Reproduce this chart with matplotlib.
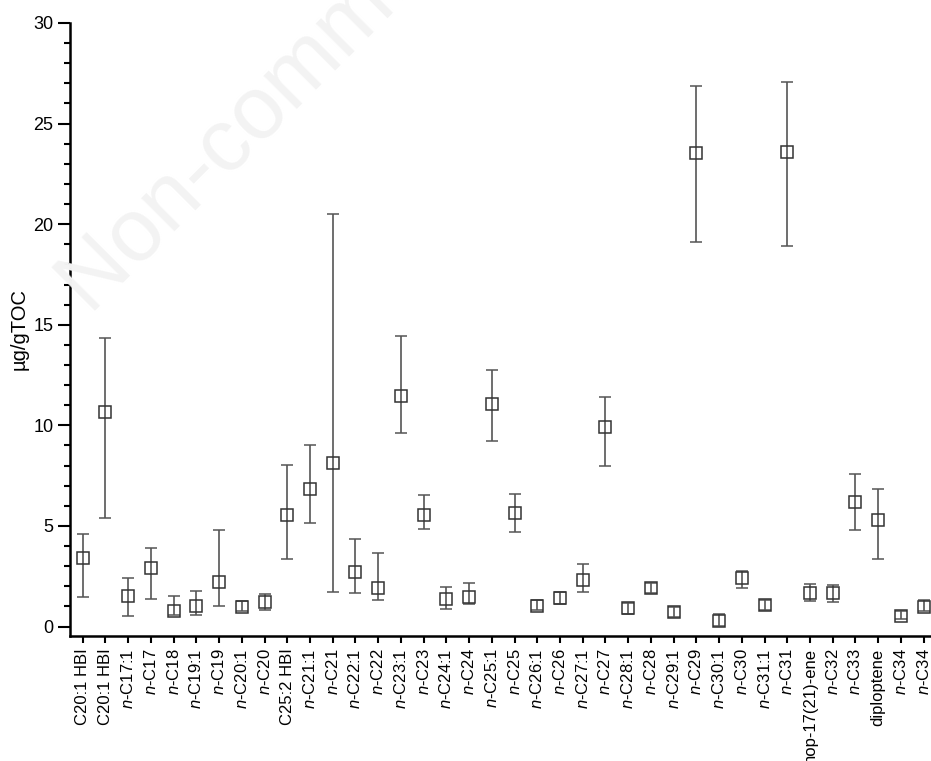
import numpy as np
import matplotlib.pyplot as plt
from matplotlib.ticker import MultipleLocator

plt.rcParams['font.family'] = ['Liberation Sans', 'DejaVu Sans']
plt.rcParams['mathtext.fontset'] = 'custom'
plt.rcParams['mathtext.rm'] = 'Liberation Sans'
plt.rcParams['mathtext.it'] = 'Liberation Sans:italic'

n = r'$\it{n}$'
compounds = ['C20:1 HBI', 'C20:1 HBI', n + '-C17:1', n + '-C17', n + '-C18',
             n + '-C19:1', n + '-C19', n + '-C20:1', n + '-C20', 'C25:2 HBI',
             n + '-C21:1', n + '-C21', n + '-C22:1', n + '-C22', n + '-C23:1',
             n + '-C23', n + '-C24:1', n + '-C24', n + '-C25:1', n + '-C25',
             n + '-C26:1', n + '-C26', n + '-C27:1', n + '-C27', n + '-C28:1',
             n + '-C28', n + '-C29:1', n + '-C29', n + '-C30:1', n + '-C30',
             n + '-C31:1', n + '-C31', 'hop-17(21)-ene', n + '-C32', n + '-C33',
             'diploptene', n + '-C34', n + '-C34']

# mean concentration and range (ug/gTOC)
mean = [3.42, 10.66, 1.53, 2.90, 0.79, 1.04, 2.23, 0.95, 1.20, 5.55,
        6.83, 8.13, 2.70, 1.93, 11.47, 5.55, 1.37, 1.48, 11.05, 5.63,
        1.04, 1.40, 2.31, 9.91, 0.90, 1.90, 0.74, 23.54, 0.27, 2.40,
        1.07, 23.57, 1.68, 1.65, 6.18, 5.27, 0.52, 0.98]
upper = [4.59, 14.35, 2.40, 3.89, 1.53, 1.77, 4.79, 1.27, 1.62, 8.05,
         9.01, 20.49, 4.35, 3.67, 14.45, 6.56, 1.95, 2.15, 12.76, 6.59,
         1.30, 1.70, 3.09, 11.40, 1.18, 2.15, 0.98, 26.89, 0.60, 2.78,
         1.32, 27.07, 2.10, 2.07, 7.59, 6.84, 0.77, 1.30]
lower = [1.48, 5.38, 0.52, 1.37, 0.55, 0.57, 1.03, 0.75, 0.82, 3.34,
         5.13, 1.70, 1.65, 1.32, 9.61, 4.83, 0.87, 1.12, 9.20, 4.69,
         0.80, 1.10, 1.73, 7.99, 0.60, 1.65, 0.49, 19.10, 0.02, 1.93,
         0.80, 18.90, 1.28, 1.20, 4.80, 3.36, 0.35, 0.75]

mean = np.array(mean)
yerr = [mean - np.array(lower), np.array(upper) - mean]
x = np.arange(len(compounds))

fig = plt.figure(figsize=(9.31, 7.61), dpi=100)
ax = fig.add_axes([0.0752, 0.1643, 0.934, 0.8055])

fig.text(0.097, 0.585, 'Non-commercial use only', rotation=45,
         rotation_mode='anchor', ha='left', va='baseline',
         fontsize=64, color='#f3f3f3', zorder=0)
ax.patch.set_alpha(0)

ax.errorbar(x, mean, yerr=yerr, fmt='s', ms=9, mfc='none', mec='#333333',
            mew=1.1, ecolor='#555555', elinewidth=1.2, capsize=4.5,
            capthick=1.2)

ax.set_xlim(-0.56, 37.7)
ax.set_ylim(-0.47, 30)
ax.yaxis.set_major_locator(MultipleLocator(5))
ax.yaxis.set_minor_locator(MultipleLocator(1))
ax.set_xticks(x)
ax.set_xticklabels(compounds, rotation=90, fontsize=12)
ax.tick_params(axis='y', which='major', length=8.5, width=1.5, labelsize=13)
ax.tick_params(axis='y', which='minor', length=4, width=1.5)
ax.tick_params(axis='x', length=5, width=1.5, pad=4)
for side in ['top', 'right']:
    ax.spines[side].set_visible(False)
for side in ['left', 'bottom']:
    ax.spines[side].set_linewidth(1.8)
ax.set_ylabel('µg/gTOC', fontsize=14.5, labelpad=3)

fig.savefig('out.png', dpi=100)
